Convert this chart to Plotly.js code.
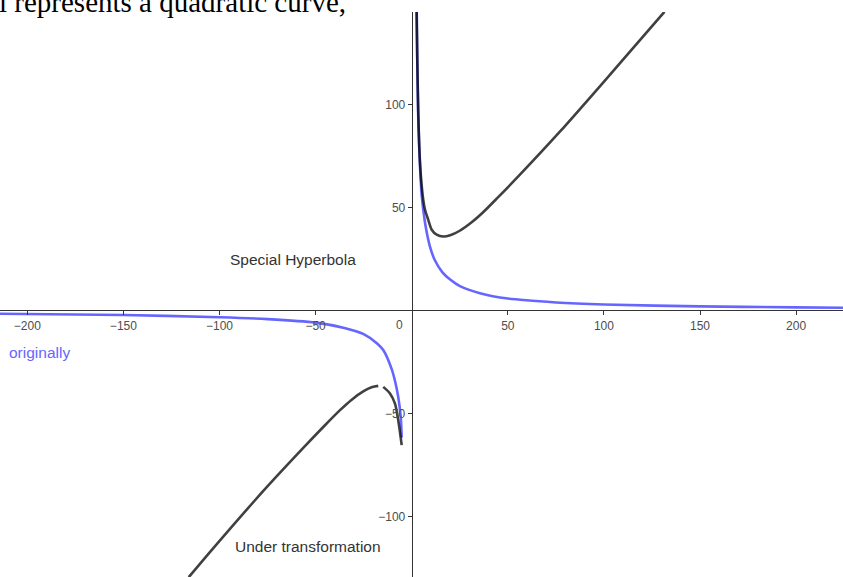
<!DOCTYPE html>
<html>
<head>
<meta charset="utf-8">
<script src="https://cdn.plot.ly/plotly-3.0.1.min.js"></script>
<style>
  html, body { margin: 0; padding: 0; background: #ffffff; }
  #chart { width: 843px; height: 577px; }
</style>
</head>
<body>
<div id="chart"></div>
<script>
// Original curve y = k/x (blue), two branches
const blueRightX = [2.5, 3.3, 4.1, 5.2, 6.0, 7.5, 9.5, 12.0, 16.0, 20.0, 25.1, 35.5, 50, 75, 100, 150, 200, 226];
const blueRightY = [146, 97.5, 74.8, 56, 49, 39.5, 31, 24.5, 18.5, 15, 11.8, 8.4, 5.8, 3.9, 2.9, 2.0, 1.5, 1.3];
const blueLeftX = [-216, -150, -100, -75, -50, -35, -25, -18, -14.8, -10.4, -8.5, -7.0, -5.7, -5.2];
const blueLeftY = [-1.6, -2.2, -3.3, -4.2, -5.9, -8.5, -11.5, -16, -19.2, -28.5, -35, -42, -51.7, -61.7];

// Transformed curve (dark), upper branch and the two pieces of the lower branch
const darkUpperX = [2.6, 2.9, 3.4, 4.0, 4.8, 6.0, 6.9, 8.6, 10.4, 13.0, 16.4, 20.0, 25.0, 31.2, 37.3, 45.0, 56.3, 77.2, 103.2, 131.5];
const darkUpperY = [146, 122, 97.5, 78, 65, 53.8, 49, 44, 39.2, 36.8, 35.9, 36.5, 38.7, 42.8, 47.8, 55.0, 65.9, 86.9, 114.5, 145];
const darkLowerLeftX = [-116, -103.2, -77.2, -56.3, -45.0, -37.3, -31.2, -25.0, -20.5, -17.4];
const darkLowerLeftY = [-129.5, -115.4, -87.6, -66.6, -55.6, -48.4, -43.3, -39.2, -37.2, -36.6];
const darkLowerRightX = [-14.8, -11.3, -8.7, -7.0, -5.2];
const darkLowerRightY = [-37.1, -40.3, -45.2, -53.3, -65.4];

// Axis ticks
const xTicks = [-200, -150, -100, -50, 50, 100, 150, 200];
const yTicks = [-100, -50, 50, 100];

// Text labels
const headline = 'l represents a quadratic curve,';
const labels = [
  { text: 'Special Hyperbola', x: -61.8, y: 24.6, color: '#333333' },
  { text: 'originally', x: -193.4, y: -20.2, color: '#6666ff' },
  { text: 'Under transformation', x: -53.8, y: -114.6, color: '#333333' }
];

const xRange = [-214.2, 224.4];
const yRange = [-129.4, 144.9];

const blue = 'rgba(0,0,255,0.6)';
const dark = 'rgba(0,0,0,0.75)';
const lineW = 2.6;

function curve(x, y, color) {
  return {
    type: 'scatter', mode: 'lines', x: x, y: y,
    line: { color: color, width: lineW, shape: 'spline', smoothing: 0.8 },
    hoverinfo: 'skip', showlegend: false
  };
}

const traces = [
  curve(blueRightX, blueRightY, blue),
  curve(blueLeftX, blueLeftY, blue),
  curve(darkUpperX, darkUpperY, dark),
  curve(darkLowerLeftX, darkLowerLeftY, dark),
  curve(darkLowerRightX, darkLowerRightY, dark)
];

const tickFont = { family: 'Liberation Sans, Arial, sans-serif', size: 12, color: '#4d4d4d' };
const labelFont = 'Liberation Sans, Arial, sans-serif';

const annotations = labels.map(l => ({
  text: l.text, x: l.x, y: l.y, xref: 'x', yref: 'y',
  showarrow: false, xanchor: 'center', yanchor: 'middle',
  font: { family: labelFont, size: 15.5, color: l.color }
}));

// Origin label sits left of the vertical axis, on the row of x tick labels
annotations.push({
  text: '0', x: 0, y: 0, xref: 'x', yref: 'y', showarrow: false,
  xanchor: 'right', yanchor: 'top', xshift: -7, yshift: -6,
  font: tickFont
});

// Heading text running off the top edge
annotations.push({
  text: headline, x: 0, y: 1 + 12 / 565, xref: 'paper', yref: 'paper',
  showarrow: false, xanchor: 'left', yanchor: 'middle', xshift: -3, yshift: -2,
  font: { family: 'Liberation Serif, Times New Roman, serif', size: 29, color: '#000000' }
});

const layout = {
  width: 843, height: 577,
  margin: { l: 0, r: 0, t: 12, b: 0, pad: 0 },
  paper_bgcolor: '#ffffff', plot_bgcolor: '#ffffff',
  showlegend: false,
  xaxis: {
    range: xRange, showgrid: false, zeroline: false,
    showline: true, linecolor: '#333333', linewidth: 1,
    anchor: 'free', position: (0 - yRange[0]) / (yRange[1] - yRange[0]),
    tickmode: 'array', tickvals: xTicks,
    ticks: 'outside', ticklen: 4, tickcolor: '#333333',
    tickfont: tickFont, fixedrange: true
  },
  yaxis: {
    range: yRange, showgrid: false, zeroline: false,
    showline: true, linecolor: '#333333', linewidth: 1,
    anchor: 'free', position: (0 - xRange[0]) / (xRange[1] - xRange[0]),
    tickmode: 'array', tickvals: yTicks,
    ticks: 'outside', ticklen: 4, tickcolor: '#333333',
    tickfont: tickFont, fixedrange: true
  },
  annotations: annotations
};

Plotly.newPlot('chart', traces, layout, { displayModeBar: false, staticPlot: true });
</script>
</body>
</html>
